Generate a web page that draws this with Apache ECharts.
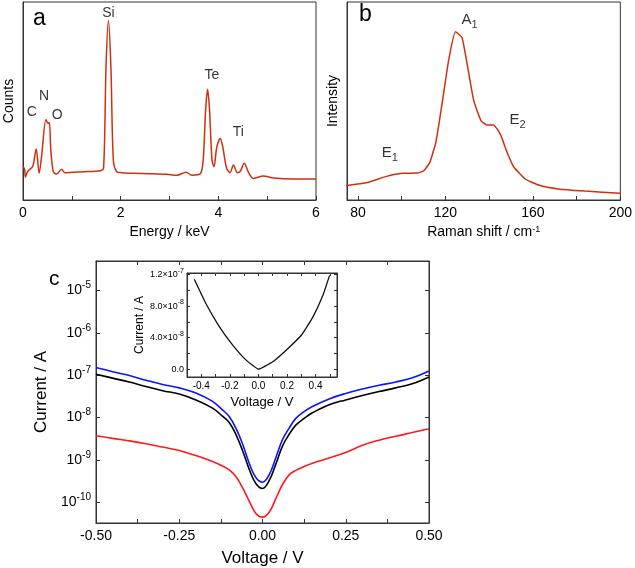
<!DOCTYPE html>
<html>
<head>
<meta charset="utf-8">
<script src="https://cdn.jsdelivr.net/npm/echarts@6/dist/echarts.min.js"></script>
<style>
  html, body { margin: 0; padding: 0; background: #fff; }
  #chart { width: 635px; height: 568px; }
</style>
</head>
<body>
<div id="chart"></div>
<script>
// panel a - EDS spectrum
const edsEnergy = [0, 0.03, 0.05, 0.08, 0.12, 0.2, 0.27, 0.33, 0.38, 0.47, 0.51, 0.54, 0.57, 0.62, 0.69, 0.79, 0.86, 1.24, 1.58, 1.65,
  1.70, 1.75, 1.80, 1.85, 1.92, 2.02, 2.26, 2.60, 2.94, 3.15, 3.34, 3.46, 3.63, 3.69, 3.74, 3.78, 3.82, 3.87, 3.91, 3.97,
  4.04, 4.09, 4.17, 4.24, 4.31, 4.39, 4.45, 4.53, 4.62, 4.72, 4.92, 5.13, 5.54, 6.0]
const edsCounts = [16.7, 15.8, 11.6, 13.6, 15.0, 17.0, 25.8, 13.5, 21.9, 40.7, 38.7, 39.1, 25.3, 14.3, 13.1, 15.5, 13.8, 14.3, 14.8, 16.0,
  67.3, 90.6, 67.3, 20.2, 14.3, 13.8, 13.5, 13.3, 13.0, 12.5, 14.0, 12.5, 13.2, 20.2, 45.5, 55.9, 45.5, 20.2, 16.8, 26.9,
  31.1, 26.9, 16.0, 13.8, 17.7, 13.8, 14.5, 18.5, 13.8, 10.9, 12.1, 11.1, 10.6, 10.6]
const edsPeakNames = ['C', 'N', 'O', 'Si', 'Te', 'Ti']
const edsPeakX = [0.18, 0.43, 0.70, 1.75, 3.87, 4.41]
const edsPeakY = [44.4, 52.5, 43, 94.5, 63, 34.3]

// panel b - Raman
const ramanShift = [74.5, 84.3, 92.7, 100.3, 107.2, 110.1, 112.9, 115.7, 118.5, 121.5, 124.6, 127.6, 129.9, 132.9, 136.3, 139, 142,
  145.1, 148.1, 151.2, 156.5, 162.6, 171.7, 183.9, 200]
const ramanIntensity = [7.2, 8.8, 11.8, 13.5, 13.6, 14.8, 19, 29.5, 48.8, 70.7, 85, 82, 69, 50.5, 40, 37.9, 37.9,
  33.3, 24.4, 16.8, 10.6, 7.6, 5.6, 4.5, 3.4]
const ramanModes = [['A', '1'], ['E', '2'], ['E', '1']]
const ramanModeX = [131, 153, 94.6]
const ramanModeY = [91, 40.4, 23.7]

// panel c - I-V on log scale
const ivVoltage = [-0.5, -0.45, -0.4, -0.35, -0.3, -0.25, -0.2, -0.15, -0.12, -0.1, -0.08, -0.06, -0.04, -0.02, 0,
  0.02, 0.04, 0.06, 0.08, 0.1, 0.125, 0.15, 0.2, 0.25, 0.3, 0.35, 0.4, 0.45, 0.5]
const ivBlue = [1.51e-7, 1.20e-7, 9.8e-8, 7.6e-8, 6.0e-8, 5.0e-8, 3.8e-8, 2.4e-8, 1.51e-8, 1.05e-8, 5.6e-9, 2.4e-9, 8.3e-10, 3.8e-10, 2.95e-10,
  4.4e-10, 1.12e-9, 3.0e-9, 5.6e-9, 9.5e-9, 1.38e-8, 1.82e-8, 2.75e-8, 3.7e-8, 4.7e-8, 5.75e-8, 6.9e-8, 8.7e-8, 1.26e-7]
const ivBlack = [1.05e-7, 8.5e-8, 6.9e-8, 5.4e-8, 4.3e-8, 3.6e-8, 2.6e-8, 1.66e-8, 1.07e-8, 7.6e-9, 4.0e-9, 1.66e-9, 6.0e-10, 2.75e-10, 2.1e-10,
  3.2e-10, 7.9e-10, 2.1e-9, 4.0e-9, 6.6e-9, 9.5e-9, 1.29e-8, 2.0e-8, 2.6e-8, 3.3e-8, 4.1e-8, 5.0e-8, 6.3e-8, 9.1e-8]
const ivRed = [3.7e-9, 3.2e-9, 2.8e-9, 2.4e-9, 2.0e-9, 1.66e-9, 1.26e-9, 9.1e-10, 7.1e-10, 5.75e-10, 4.0e-10, 2.2e-10, 1.05e-10, 5.4e-11, 4.4e-11,
  5.75e-11, 1.2e-10, 2.6e-10, 4.4e-10, 5.6e-10, 6.9e-10, 8.3e-10, 1.1e-9, 1.48e-9, 2.2e-9, 2.9e-9, 3.6e-9, 4.4e-9, 5.4e-9]

// inset - linear I-V
const insetVoltage = [-0.449, -0.367, -0.274, -0.18, -0.086, 0, 0.1, 0.194, 0.3, 0.381, 0.452, 0.498]
const insetCurrent = [1.14e-7, 8.3e-8, 5.4e-8, 3.05e-8, 1.14e-8, 0, 9.3e-9, 2.4e-8, 4.3e-8, 6.6e-8, 9.4e-8, 1.19e-7]

const FONT = 'Liberation Sans, Arial, sans-serif'
const AXIS_COLOR = '#333'
const EDS_RED = '#d0300f'

const zip = (xs, ys) => xs.map((x, i) => [x, ys[i]])
const supRich = (big, small) => ({
  b: { fontSize: big, fontFamily: FONT, color: '#000', lineHeight: big + 6 },
  s: { fontSize: small, fontFamily: FONT, color: '#000', verticalAlign: 'top', lineHeight: small }
})
const subRich = (big, small) => ({
  b: { fontSize: big, fontFamily: FONT, color: '#000', lineHeight: big + 6 },
  s: { fontSize: small, fontFamily: FONT, color: '#000', verticalAlign: 'bottom', lineHeight: small }
})

function baseAxis(extra) {
  return Object.assign({
    type: 'value',
    axisLine: { show: true, onZero: false, lineStyle: { color: AXIS_COLOR, width: 1 } },
    axisTick: { show: true, inside: true, length: 4, lineStyle: { color: AXIS_COLOR } },
    axisLabel: { color: '#000', fontFamily: FONT, fontSize: 14 },
    splitLine: { show: false },
    nameTextStyle: { color: '#000', fontFamily: FONT, fontSize: 14 }
  }, extra)
}

const smallTick = { show: true, inside: true, length: 3, lineStyle: { color: AXIS_COLOR } }

const logLabel = (v) => {
  const l = Math.log10(v)
  const e = Math.round(l)
  if (Math.abs(l - e) > 0.01) return ''
  return '{b|10}{s|' + e + '}'
}

const option = {
  animation: false,
  textStyle: { fontFamily: FONT },
  grid: [
    { left: 23, top: 2, width: 293, height: 198, show: true, borderColor: AXIS_COLOR, borderWidth: 1 },
    { left: 347, top: 2, width: 275, height: 198, show: true, borderColor: AXIS_COLOR, borderWidth: 1 },
    { left: 96, top: 261, width: 333, height: 263, show: true, borderColor: AXIS_COLOR, borderWidth: 1 },
    { left: 187, top: 273, width: 150, height: 104, show: true, borderColor: AXIS_COLOR, borderWidth: 1, backgroundColor: '#fff' }
  ],
  xAxis: [
    baseAxis({
      gridIndex: 0, min: 0, max: 6, interval: 1,
      name: 'Energy / keV', nameLocation: 'middle', nameGap: 25,
      axisLabel: { color: '#000', fontFamily: FONT, fontSize: 14, margin: 6, formatter: v => (v % 2 === 0 ? String(v) : '') }
    }),
    baseAxis({
      gridIndex: 1, min: 75, max: 200, splitNumber: 6,
      name: 'Raman shift / cm{s|-1}', nameLocation: 'middle', nameGap: 25,
      nameTextStyle: { color: '#000', fontFamily: FONT, fontSize: 14, rich: supRich(14, 9) },
      axisLabel: { color: '#000', fontFamily: FONT, fontSize: 14, margin: 6, showMinLabel: false, formatter: v => (v % 40 === 0 ? String(v) : '') }
    }),
    baseAxis({
      gridIndex: 2, min: -0.5, max: 0.5, interval: 0.125,
      name: 'Voltage / V', nameLocation: 'middle', nameGap: 27,
      nameTextStyle: { color: '#000', fontFamily: FONT, fontSize: 17 },
      axisLabel: {
        color: '#000', fontFamily: FONT, fontSize: 14, margin: 6,
        formatter: v => (Math.abs(v * 4 - Math.round(v * 4)) < 1e-6 ? v.toFixed(2) : '')
      }
    }),
    baseAxis({ gridIndex: 2, position: 'top', min: -0.5, max: 0.5, interval: 0.125, axisLabel: { show: false } }),
    baseAxis({
      gridIndex: 3, min: -0.5, max: 0.55, interval: 0.1,
      name: 'Voltage / V', nameLocation: 'middle', nameGap: 19,
      nameTextStyle: { color: '#000', fontFamily: FONT, fontSize: 13 },
      axisTick: smallTick,
      axisLabel: {
        color: '#000', fontFamily: FONT, fontSize: 10, margin: 4, showMaxLabel: false,
        formatter: v => (Math.abs(v * 5 - Math.round(v * 5)) < 1e-6 ? v.toFixed(1) : '')
      }
    }),
    baseAxis({
      gridIndex: 3, position: 'top', min: -0.5, max: 0.55, interval: 0.1, axisLabel: { show: false }, axisTick: smallTick
    })
  ],
  yAxis: [
    baseAxis({
      gridIndex: 0, min: 0, max: 100, axisTick: { show: false }, axisLabel: { show: false },
      name: 'Counts', nameLocation: 'middle', nameGap: 7
    }),
    baseAxis({
      gridIndex: 1, min: 0, max: 100, axisTick: { show: false }, axisLabel: { show: false },
      name: 'Intensity', nameLocation: 'middle', nameGap: 7
    }),
    baseAxis({
      gridIndex: 2, type: 'log', logBase: 10, min: 3.2e-11, max: 5e-5,
      name: 'Current / A', nameLocation: 'middle', nameGap: 40,
      nameTextStyle: { color: '#000', fontFamily: FONT, fontSize: 17 },
      axisLabel: { margin: 5, showMinLabel: false, showMaxLabel: false, formatter: logLabel, rich: supRich(14, 10) }
    }),
    baseAxis({
      gridIndex: 2, type: 'log', logBase: 10, min: 3.2e-11, max: 5e-5, position: 'right',
      axisLabel: { show: false }
    }),
    baseAxis({
      gridIndex: 3, min: -1e-8, max: 1.22e-7, splitNumber: 7,
      name: 'Current / A', nameLocation: 'middle', nameGap: 40,
      nameTextStyle: { color: '#000', fontFamily: FONT, fontSize: 12 },
      axisTick: smallTick,
      axisLabel: {
        margin: 3, showMinLabel: false, showMaxLabel: false, rich: supRich(9, 7),
        formatter: v => {
          if (Math.abs(v) < 1e-12) return '{b|0.0}'
          if (Math.abs(v / 4e-8 - Math.round(v / 4e-8)) > 1e-6) return ''
          const e = Math.floor(Math.log10(v) + 1e-9)
          return '{b|' + (v / Math.pow(10, e)).toFixed(1) + '×10}{s|' + e + '}'
        }
      }
    }),
    baseAxis({
      gridIndex: 3, min: -1e-8, max: 1.22e-7, splitNumber: 7, position: 'right', axisLabel: { show: false }, axisTick: smallTick
    })
  ],
  series: [
    {
      type: 'line', xAxisIndex: 0, yAxisIndex: 0, data: zip(edsEnergy, edsCounts),
      showSymbol: false, smooth: 0.3, lineStyle: { color: EDS_RED, width: 1.5 }
    },
    {
      type: 'scatter', xAxisIndex: 0, yAxisIndex: 0, symbolSize: 0, silent: true,
      data: edsPeakNames.map((n, i) => [edsPeakX[i], edsPeakY[i], n]),
      label: { show: true, position: 'inside', formatter: p => p.data[2], color: '#000', fontSize: 14, fontFamily: FONT }
    },
    {
      type: 'line', xAxisIndex: 1, yAxisIndex: 1, data: zip(ramanShift, ramanIntensity),
      showSymbol: false, smooth: 0.15, lineStyle: { color: EDS_RED, width: 1.5 }
    },
    {
      type: 'scatter', xAxisIndex: 1, yAxisIndex: 1, symbolSize: 0, silent: true,
      data: ramanModes.map((m, i) => [ramanModeX[i], ramanModeY[i], m[0], m[1]]),
      label: {
        show: true, position: 'inside', formatter: p => '{b|' + p.data[2] + '}{s|' + p.data[3] + '}',
        rich: subRich(15, 11)
      }
    },
    {
      type: 'line', xAxisIndex: 2, yAxisIndex: 2, data: zip(ivVoltage, ivBlue),
      showSymbol: false, smooth: 0.4, lineStyle: { color: '#0a14ff', width: 1.6 }
    },
    {
      type: 'line', xAxisIndex: 2, yAxisIndex: 2, data: zip(ivVoltage, ivBlack),
      showSymbol: false, smooth: 0.4, lineStyle: { color: '#000', width: 1.6 }
    },
    {
      type: 'line', xAxisIndex: 2, yAxisIndex: 2, data: zip(ivVoltage, ivRed),
      showSymbol: false, smooth: 0.4, lineStyle: { color: '#ff1a1a', width: 1.6 }
    },
    {
      type: 'line', xAxisIndex: 4, yAxisIndex: 4, data: zip(insetVoltage, insetCurrent),
      showSymbol: false, smooth: 0.12, lineStyle: { color: '#111', width: 1.3 }
    }
  ],
  graphic: [
    { type: 'text', left: 33, top: 7, style: { text: 'a', fontSize: 23, fontFamily: FONT, fill: '#000' } },
    { type: 'text', left: 359, top: 3, style: { text: 'b', fontSize: 23, fontFamily: FONT, fill: '#000' } },
    { type: 'text', left: 49, top: 269, style: { text: 'c', fontSize: 21, fontFamily: FONT, fill: '#000' } }
  ]
}

const chart = echarts.init(document.getElementById('chart'))
chart.setOption(option)
</script>
</body>
</html>
